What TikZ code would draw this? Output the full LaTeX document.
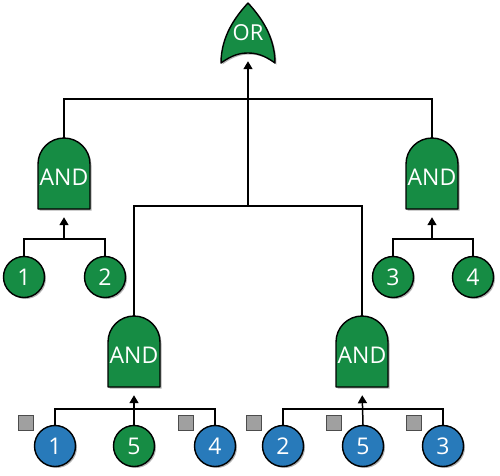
\documentclass[tikz,border=0pt]{standalone}
\usepackage{fontspec}
\setmainfont{Open Sans}
\usetikzlibrary{arrows.meta,shadows}
\definecolor{gatgreen}{RGB}{22,140,68}
\definecolor{evblue}{RGB}{40,122,186}
\definecolor{sqgray}{RGB}{160,160,160}
\tikzset{
  shad/.style={drop shadow={shadow xshift=1.5pt,shadow yshift=-1.5pt,opacity=0.3,fill=black}},
  gateshape/.style={fill=gatgreen,draw=black,line width=1.4pt,line join=round,shad},
  gatenode/.style={inner sep=0pt,minimum width=52pt,minimum height=71pt,text=white,font=\fontsize{23}{23}\selectfont,text height=24pt,text depth=0pt},
  ornode/.style={inner sep=0pt,minimum width=54pt,minimum height=48pt,text=white,font=\fontsize{22}{22}\selectfont},
  ev/.style={circle,draw=black,line width=1.4pt,minimum size=41pt,inner sep=0pt,text=white,font=\fontsize{23}{23}\selectfont,shad},
  evg/.style={ev,fill=gatgreen},
  evb/.style={ev,fill=evblue},
  sq/.style={rectangle,draw=black!70,line width=0.8pt,fill=sqgray,minimum size=15pt,inner sep=0pt},
  conn/.style={draw=black,line width=1.5pt},
  arr/.style={conn,-{Triangle[length=8pt,width=9pt]}},
}
\newcommand\andgate[4]{%
  \draw[gateshape] (#2-26,#3+35.5) -- (#2-26,#3-9.5) arc[start angle=180,end angle=0,radius=26pt] -- (#2+26,#3+35.5) -- cycle;
  \node[gatenode] (#1) at (#2,#3) {#4};}
\begin{document}
\begin{tikzpicture}[x=1pt,y=-1pt]
\useasboundingbox (0,0) rectangle (500,475);
% OR gate
\draw[gateshape] (248,3) .. controls (236,16) and (221,36) .. (221,63)
  .. controls (232,55) and (240,53) .. (248,53)
  .. controls (256,53) and (264,55) .. (275,63)
  .. controls (275,36) and (260,16) .. (248,3) -- cycle;
\node[ornode] (or) at (248,33) {OR};
% AND gates
\andgate{andL}{64}{173.5}{AND}
\andgate{andR}{432}{173.5}{AND}
\andgate{andLL}{134}{351.5}{AND}
\andgate{andRL}{362}{351.5}{AND}
% events
\node[evg] (u1) at (24,277) {1};
\node[evg] (u2) at (105,277) {2};
\node[evg] (u3) at (393,277) {3};
\node[evg] (u4) at (473,277) {4};
\node[evb] (l1) at (55,446) {1};
\node[evg] (l5) at (134,446) {5};
\node[evb] (l4) at (215,446) {4};
\node[evb] (r2) at (283,446) {2};
\node[evb] (r5) at (363,446) {5};
\node[evb] (r3) at (443,446) {3};
% squares
\node[sq] (s1) at (26,423) {};
\node[sq] (s2) at (185.5,423) {};
\node[sq] (s3) at (254,423) {};
\node[sq] (s4) at (334,423) {};
\node[sq] (s5) at (414,423) {};
% junctions
\coordinate (j1) at (248,99);
\coordinate (j2) at (248,206);
\coordinate (jL) at (64,239);
\coordinate (jR) at (432,239);
\coordinate (jLL) at (134,409);
\coordinate (jRL) at (362,409);
% connectors
\draw[conn] (andL.north) |- (j1) -| (andR.north);
\draw[arr,shorten >=4pt] (j2) -- (or.south);
\draw[conn] (andLL.north) |- (j2) -| (andRL.north);
\draw[conn] (u1.north) |- (jL) -| (u2.north);
\draw[arr,shorten >=8pt] (jL) -- (andL.south);
\draw[conn] (u3.north) |- (jR) -| (u4.north);
\draw[arr,shorten >=8pt] (jR) -- (andR.south);
\draw[conn] (l1.north) |- (jLL) -| (l4.north);
\draw[arr,shorten >=8pt] (l5.north) -- (andLL.south);
\draw[conn] (r2.north) |- (jRL) -| (r3.north);
\draw[arr,shorten >=8pt] (r5.north) -- (andRL.south);
\end{tikzpicture}
\end{document}
